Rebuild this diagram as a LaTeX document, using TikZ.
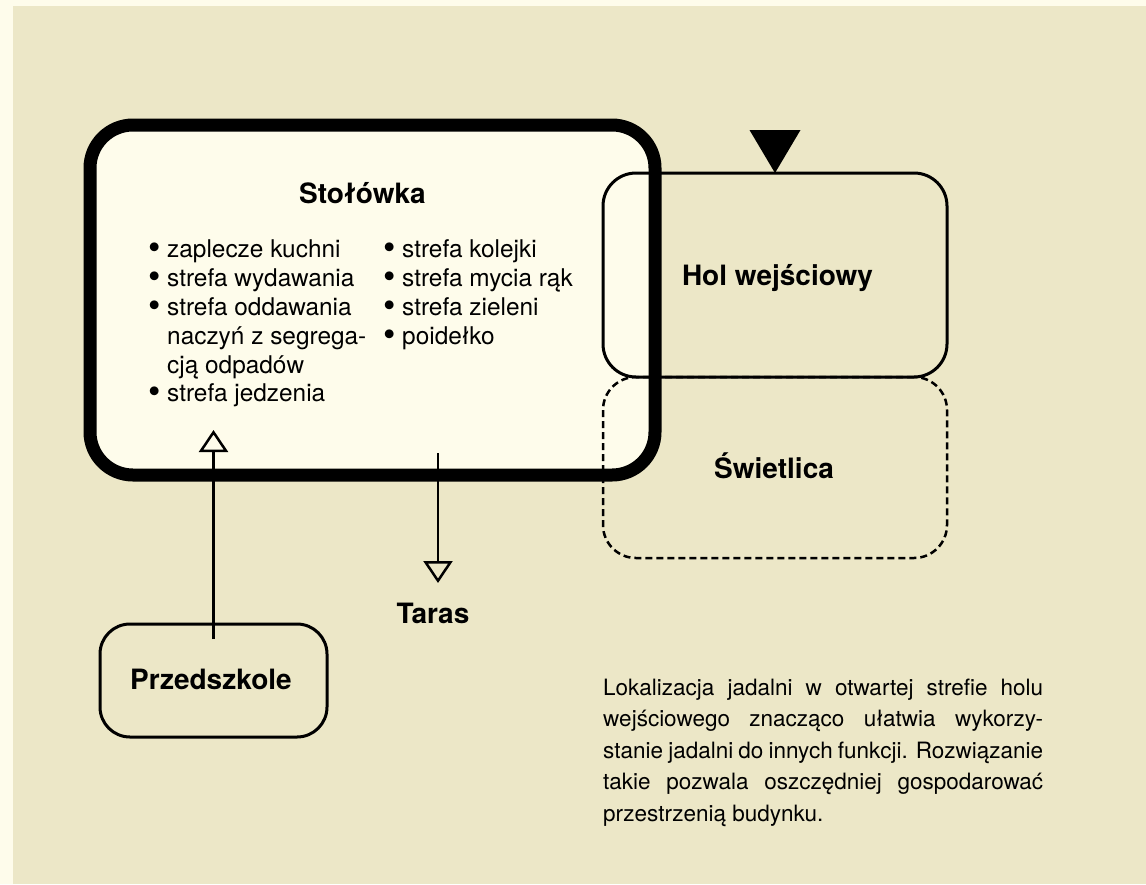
\documentclass[tikz,border=0pt]{standalone}
\usepackage{fontspec}
\usepackage{graphicx}
\setmainfont{TeX Gyre Heros}
\usetikzlibrary{arrows.meta}
\definecolor{bg}{HTML}{ECE7C7}
\definecolor{cream}{HTML}{FEFCEB}
\newcommand\mybul{\makebox[19pt][l]{\smash{\raisebox{-2.2pt}{\scalebox{1.45}{\textbullet}}}}}
\newcommand\myind{\hspace*{19pt}}
\begin{document}
\begin{tikzpicture}[x=1pt,y=-1pt,
  box/.style={draw, line width=3pt, rounded corners=33pt, inner sep=0pt, outer sep=0pt},
  lbl/.style={font=\fontsize{28}{32}\selectfont\bfseries, inner sep=0pt, anchor=base},
  item/.style={font=\fontsize{24.4}{28}\selectfont, anchor=base west, inner sep=0pt, text height=18pt, text depth=5pt},
  para/.style={font=\fontsize{22.5}{26}\selectfont, anchor=base west, inner sep=0pt},
  openarrow/.style={line width=2.5pt, -{Triangle[open, length=22pt, width=29pt]}},
]
\useasboundingbox (0,0) rectangle (1146,884);
\fill[cream] (0,0) rectangle (1146,884);
\fill[bg] (13,6) rectangle (1146,884);
% Stolowka fill
\node[fill=cream, rounded corners=43pt, minimum width=565pt, minimum height=350pt, inner sep=0pt, outer sep=0pt] (stol) at (372.5,300) {};
% Hol and Swietlica
\node[box, minimum width=344pt, minimum height=204pt] (hol) at (775,275) {};
\node[box, line width=2.5pt, dash pattern=on 7pt off 4pt, minimum width=344pt, minimum height=181pt] (swiet) at (775,467.5) {};
% Stolowka border
\draw[line width=13pt, rounded corners=43pt] (stol.north west) rectangle (stol.south east);
% Przedszkole
\node[box, rounded corners=30pt, minimum width=227pt, minimum height=113pt] (pre) at (213.5,680.5) {};
% entrance triangle
\fill ([xshift=-25.5pt,yshift=43pt]hol.north) -- ([xshift=25.5pt,yshift=43pt]hol.north) -- (hol.north) -- cycle;
% labels
\node[lbl] (tstol) at (362.5,203) {Stołówka};
\node[lbl] (thol) at (777.5,285) {Hol wejściowy};
\node[lbl] (tswiet) at (774,478) {Świetlica};
\node[lbl] (ttaras) at (433,623) {Taras};
\node[lbl] (tpre) at (211,689) {Przedszkole};
% bullet lists
\node[item] (a1) at (148,257) {\mybul zaplecze kuchni};
\node[item] (a2) at (148,286) {\mybul strefa wydawania};
\node[item] (a3) at (148,315) {\mybul strefa oddawania};
\node[item] (a4) at (148,344) {\myind naczyń z segrega-};
\node[item] (a5) at (148,373) {\myind cją odpadów};
\node[item] (a6) at (148,401) {\mybul strefa jedzenia};
\node[item] (b1) at (383,257) {\mybul strefa kolejki};
\node[item] (b2) at (383,286) {\mybul strefa mycia rąk};
\node[item] (b3) at (383,315) {\mybul strefa zieleni};
\node[item] (b4) at (383,344) {\mybul poidełko};
% arrows
\coordinate (uptip) at (213.5,430);
\draw[openarrow] ([yshift=-15pt]pre.north) -- (uptip);
\coordinate (tstart) at (438,453);
\coordinate (ttip) at (438,583);
\draw[openarrow] (tstart) -- (ttip);
% paragraph
\node[para] (p1) at (603,695) {\makebox[440pt][s]{Lokalizacja jadalni w otwartej strefie holu}};
\node[para] (p2) at (603,726.5) {\makebox[440pt][s]{wejściowego znacząco ułatwia wykorzy-}};
\node[para] (p3) at (603,758) {\makebox[440pt][s]{stanie jadalni do innych funkcji. Rozwiązanie}};
\node[para] (p4) at (603,789.5) {\makebox[440pt][s]{takie pozwala oszczędniej gospodarować}};
\node[para] (p5) at (603,821) {przestrzenią budynku.};
\end{tikzpicture}
\end{document}
